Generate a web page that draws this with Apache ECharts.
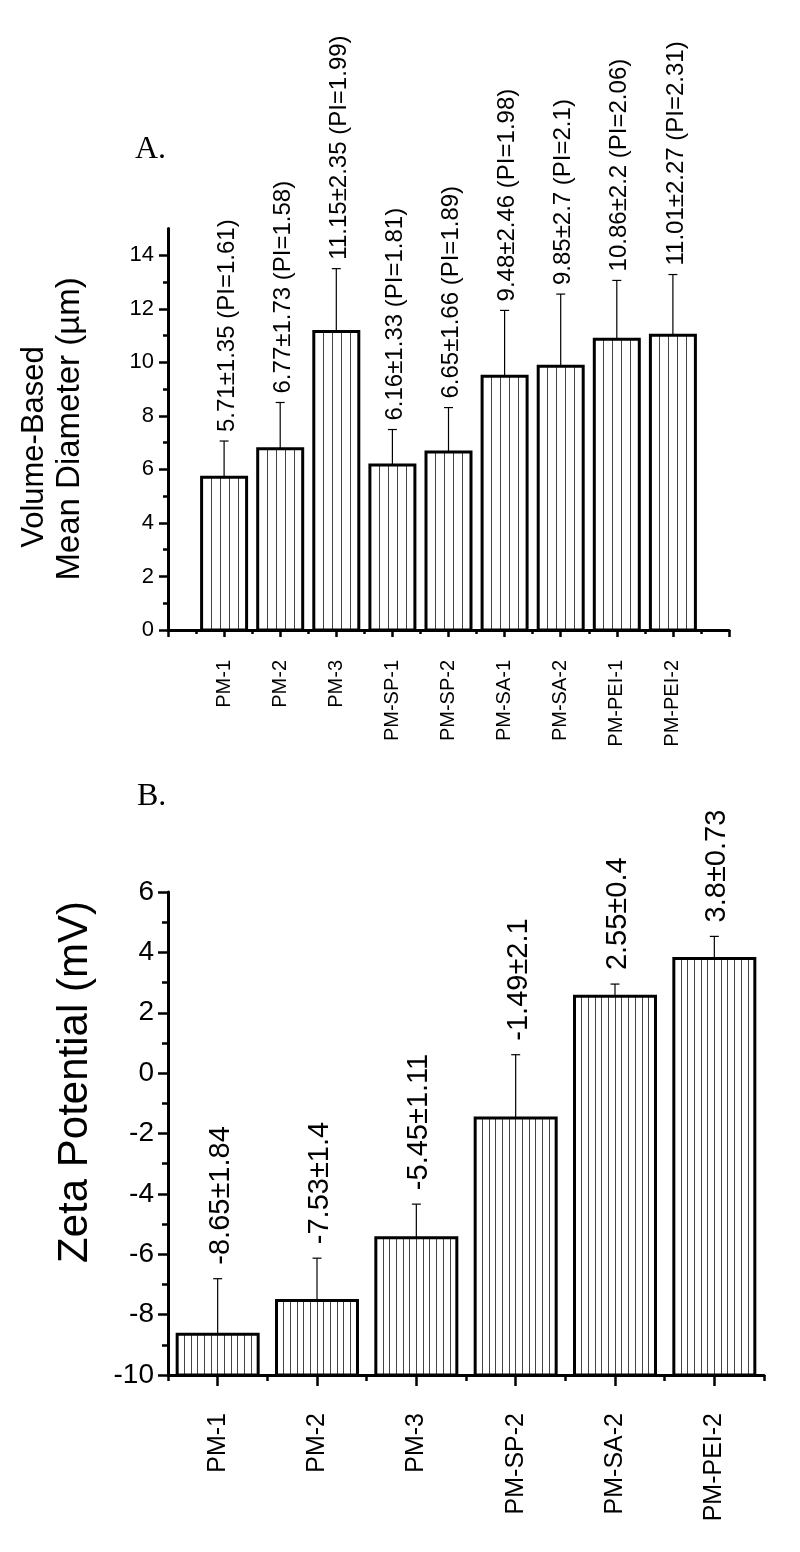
<!DOCTYPE html>
<html><head><meta charset="utf-8">
<script src="https://cdn.jsdelivr.net/npm/echarts@6/dist/echarts.min.js"></script>
<style>html,body{margin:0;padding:0;background:#fff}#c{width:800px;height:1552px}</style>
</head><body><div id="c"></div>
<script>
// ---- Data: panel A ----
const catsA = ['PM-1','PM-2','PM-3','PM-SP-1','PM-SP-2','PM-SA-1','PM-SA-2','PM-PEI-1','PM-PEI-2'];
const meanA = [5.71, 6.77, 11.15, 6.16, 6.65, 9.48, 9.85, 10.86, 11.01];
const sdA   = [1.35, 1.73, 2.35, 1.33, 1.66, 2.46, 2.7, 2.2, 2.27];
const piA   = [1.61, 1.58, 1.99, 1.81, 1.89, 1.98, 2.1, 2.06, 2.31];
const yMajorA = [0, 2, 4, 6, 8, 10, 12, 14];
const yMinorA = [1, 3, 5, 7, 9, 11, 13];
// ---- Data: panel B ----
const catsB = ['PM-1','PM-2','PM-3','PM-SP-2','PM-SA-2','PM-PEI-2'];
const zetaB = [-8.65, -7.53, -5.45, -1.49, 2.55, 3.8];
const sdB   = [1.84, 1.4, 1.11, 2.1, 0.4, 0.73];

const SANS = '"Liberation Sans", Arial, Helvetica, sans-serif';
const SERIF = '"Liberation Serif", "Times New Roman", serif';

const xMajorA = catsA.map((c, i) => i + 1);
const xTicksA = [0].concat(xMajorA, [catsA.length + 1]);
const xMinorA = xTicksA.slice(0, -1).map(v => v + 0.5);

function makeRender(opt) {
  return function (params, api) {
    const x = api.value(0), v = api.value(1), e = api.value(2);
    const p0 = api.coord([x, opt.base]);
    const p1 = api.coord([x, v]);
    const pe = api.coord([x, v + e]);
    const w = opt.barW;
    const left = p0[0] - w / 2;
    const top = Math.min(p0[1], p1[1]);
    const h = Math.abs(p0[1] - p1[1]);
    const ch = [];
    ch.push({ type: 'rect', shape: { x: left, y: top, width: w, height: h }, style: { fill: '#fff' } });
    for (let xx = left + opt.step; xx < left + w - 2; xx += opt.step) {
      ch.push({ type: 'line', shape: { x1: Math.round(xx) + 0.5, y1: top, x2: Math.round(xx) + 0.5, y2: top + h },
        style: { stroke: '#444', lineWidth: 1 } });
    }
    ch.push({ type: 'rect', shape: { x: left, y: top, width: w, height: h }, style: { fill: null, stroke: '#000', lineWidth: 3 } });
    ch.push({ type: 'line', shape: { x1: p1[0], y1: p1[1], x2: pe[0], y2: pe[1] }, style: { stroke: '#000', lineWidth: 1.2 } });
    ch.push({ type: 'line', shape: { x1: pe[0] - 4.5, y1: pe[1], x2: pe[0] + 4.5, y2: pe[1] }, style: { stroke: '#000', lineWidth: 1.2 } });
    ch.push({ type: 'text', x: pe[0] + opt.dx, y: pe[1] - opt.gap, rotation: Math.PI / 2,
      style: { text: opt.label(params.dataIndex), fill: '#000', fontSize: opt.fs, fontFamily: SANS, align: 'left', verticalAlign: 'middle' } });
    return { type: 'group', children: ch };
  };
}

const chart = echarts.init(document.getElementById('c'), null, { renderer: 'canvas' });
chart.setOption({
  animation: false,
  backgroundColor: '#fff',
  grid: [
    { left: 168, top: 228.5, width: 561, height: 401.5 },
    { left: 168, top: 892, width: 596, height: 483 }
  ],
  xAxis: [
    { gridIndex: 0, type: 'value', position: 'bottom', min: 0, max: catsA.length + 1, interval: 1,
      axisLine: { show: true, onZero: false, lineStyle: { color: '#000', width: 3 } },
      axisTick: { show: true, customValues: xTicksA, length: 7, lineStyle: { color: '#000', width: 2.5 } },
      axisLabel: { show: true, customValues: xMajorA, rotate: 90, margin: 30, fontSize: 20, fontFamily: SANS, color: '#000',
        formatter: v => catsA[Math.round(v) - 1] || '' },
      splitLine: { show: false } },
    { gridIndex: 0, type: 'value', position: 'bottom', min: 0, max: catsA.length + 1,
      axisLine: { show: false, onZero: false },
      axisTick: { show: true, customValues: xMinorA, length: 4, lineStyle: { color: '#000', width: 2.5 } },
      axisLabel: { show: false }, splitLine: { show: false } },
    { gridIndex: 1, type: 'category', position: 'bottom', data: catsB, boundaryGap: true,
      axisLine: { show: true, onZero: false, lineStyle: { color: '#000', width: 3 } },
      axisTick: { show: true, alignWithLabel: false, length: 6, lineStyle: { color: '#000', width: 2.5 } },
      axisLabel: { show: true, rotate: 90, margin: 38, fontSize: 25, fontFamily: SANS, color: '#000', interval: 0 },
      splitLine: { show: false } },
    { gridIndex: 1, type: 'category', position: 'bottom', data: catsB, boundaryGap: true,
      axisLine: { show: false, onZero: false },
      axisTick: { show: true, alignWithLabel: true, length: 11, lineStyle: { color: '#000', width: 2.5 } },
      axisLabel: { show: false }, splitLine: { show: false } }
  ],
  yAxis: [
    { gridIndex: 0, type: 'value', position: 'left', min: 0, max: 15, interval: 1,
      axisLine: { show: true, onZero: false, lineStyle: { color: '#000', width: 3 } },
      axisTick: { show: true, customValues: yMajorA, length: 9, lineStyle: { color: '#000', width: 2.5 } },
      axisLabel: { show: true, customValues: yMajorA, margin: 14, fontSize: 22, fontFamily: SANS, color: '#000' },
      splitLine: { show: false } },
    { gridIndex: 0, type: 'value', position: 'left', min: 0, max: 15, interval: 1,
      axisLine: { show: false, onZero: false },
      axisTick: { show: true, customValues: yMinorA, length: 5, lineStyle: { color: '#000', width: 2.5 } },
      axisLabel: { show: false }, splitLine: { show: false } },
    { gridIndex: 1, type: 'value', position: 'left', min: -10, max: 6, interval: 2,
      axisLine: { show: true, onZero: false, lineStyle: { color: '#000', width: 3 } },
      axisTick: { show: true, length: 10, lineStyle: { color: '#000', width: 2.5 } },
      minorTick: { show: true, splitNumber: 2, length: 6, lineStyle: { color: '#000', width: 2.5 } },
      axisLabel: { show: true, margin: 14, fontSize: 28, fontFamily: SANS, color: '#000' },
      splitLine: { show: false } }
  ],
  series: [
    { type: 'custom', xAxisIndex: 0, yAxisIndex: 0, clip: false,
      data: catsA.map((c, i) => [i + 1, meanA[i], sdA[i]]),
      encode: { x: 0, y: 1 },
      renderItem: makeRender({ base: 0, barW: 45, step: 9, fs: 24, gap: 9, dx: 3,
        label: i => meanA[i] + '±' + sdA[i] + ' (PI=' + piA[i] + ')' }) },
    { type: 'custom', xAxisIndex: 2, yAxisIndex: 2, clip: false,
      data: catsB.map((c, i) => [i, zetaB[i], sdB[i]]),
      encode: { x: 0, y: 1 },
      renderItem: makeRender({ base: -10, barW: 81, step: 6.7, fs: 29, gap: 14, dx: 3,
        label: i => zetaB[i] + '±' + sdB[i] }) }
  ],
  graphic: [
    { type: 'text', x: 135, y: 150, style: { text: 'A.', font: '32px ' + SERIF, fill: '#000', align: 'left', verticalAlign: 'middle' } },
    { type: 'text', x: 137, y: 797, style: { text: 'B.', font: '32px ' + SERIF, fill: '#000', align: 'left', verticalAlign: 'middle' } },
    { type: 'text', x: 34, y: 447, rotation: Math.PI / 2, style: { text: 'Volume-Based', font: '31px ' + SANS, fill: '#000', align: 'center', verticalAlign: 'middle' } },
    { type: 'text', x: 70, y: 429, rotation: Math.PI / 2, style: { text: 'Mean Diameter (µm)', font: '33px ' + SANS, fill: '#000', align: 'center', verticalAlign: 'middle' } },
    { type: 'text', x: 75, y: 1082, rotation: Math.PI / 2, style: { text: 'Zeta Potential (mV)', font: '42px ' + SANS, fill: '#000', align: 'center', verticalAlign: 'middle' } }
  ]
});
</script>
</body></html>
